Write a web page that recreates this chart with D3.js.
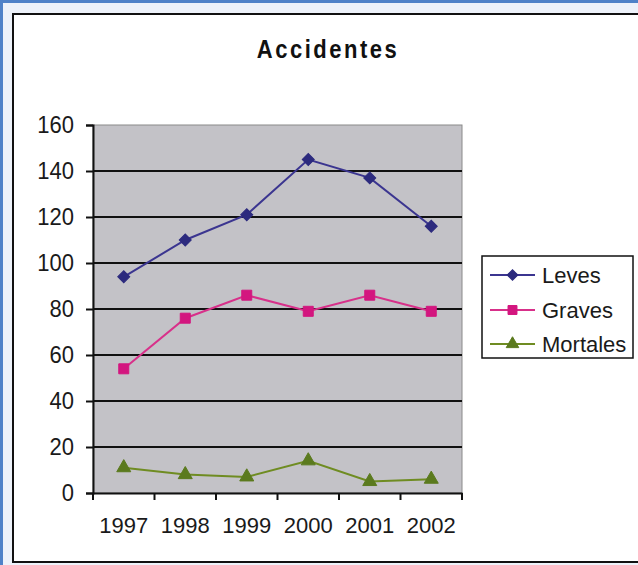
<!DOCTYPE html>
<html>
<head>
<meta charset="utf-8">
<script src="https://cdn.jsdelivr.net/npm/d3@7/dist/d3.min.js"></script>
<style>
  html, body { margin: 0; padding: 0; background: #ffffff; }
  svg { display: block; font-family: "Liberation Sans", Arial, sans-serif; }
</style>
</head>
<body>
<svg id="chart" width="638" height="565"></svg>
<script>
// Accident counts per year
const years = ["1997", "1998", "1999", "2000", "2001", "2002"];
const leves = [94, 110, 121, 145, 137, 116];
const graves = [54, 76, 86, 79, 86, 79];
const mortales = [11, 8, 7, 14, 5, 6];
const yTicks = [0, 20, 40, 60, 80, 100, 120, 140, 160];
const seriesNames = ["Leves", "Graves", "Mortales"];

// Diamond markers are squares turned by 45 degrees
const series = [
  { name: seriesNames[0], values: leves, color: "#2c2a7e", line: "#3b3590", marker: d3.symbolSquare, size: 72, rotate: 45 },
  { name: seriesNames[1], values: graves, color: "#d3167f", line: "#d8308a", marker: d3.symbolSquare, size: 100, rotate: 0 },
  { name: seriesNames[2], values: mortales, color: "#5b7a1e", line: "#6f8c22", marker: d3.symbolTriangle, size: 85, rotate: 0 }
];

const svg = d3.select("#chart");

// Outer frame
svg.append("rect").attr("x", 0).attr("y", 0).attr("width", 638).attr("height", 565).attr("fill", "#edf2fa");
svg.append("rect").attr("x", 1.5).attr("y", 1.5).attr("width", 650).attr("height", 600)
  .attr("fill", "none").attr("stroke", "#4f82c8").attr("stroke-width", 3);
svg.append("rect").attr("x", 13).attr("y", 14).attr("width", 640).attr("height", 548)
  .attr("fill", "#ffffff").attr("stroke", "#111111").attr("stroke-width", 2);

const plot = { left: 93, right: 462, top: 125, bottom: 493 };

const x = d3.scaleBand().domain(years).range([plot.left, plot.right]).padding(0);
const y = d3.scaleLinear().domain([0, 160]).range([plot.bottom, plot.top]);

// Plot area background
svg.append("rect")
  .attr("x", plot.left).attr("y", plot.top)
  .attr("width", plot.right - plot.left).attr("height", plot.bottom - plot.top)
  .attr("fill", "#c3c2c7").attr("stroke", "#8a8a8a").attr("stroke-width", 1);

// Horizontal gridlines
svg.append("g").selectAll("line")
  .data(yTicks.filter(t => t > 0 && t < 160))
  .join("line")
  .attr("x1", plot.left).attr("x2", plot.right)
  .attr("y1", d => y(d)).attr("y2", d => y(d))
  .attr("stroke", "#111111").attr("stroke-width", 2);

// Y axis
const yAxis = svg.append("g")
  .attr("transform", `translate(${plot.left},0)`)
  .call(d3.axisLeft(y).tickValues(yTicks).tickSize(7).tickPadding(12));
yAxis.select(".domain").attr("stroke", "#111111").attr("stroke-width", 2);
yAxis.selectAll(".tick line").attr("stroke", "#111111").attr("stroke-width", 2);
yAxis.selectAll(".tick text")
  .attr("font-size", 22).attr("fill", "#1a1a1a")
  .attr("font-family", "'Liberation Sans', Arial, sans-serif")
  .attr("transform", "scale(1,1.08)");

// X axis
const xAxis = svg.append("g")
  .attr("transform", `translate(0,${plot.bottom})`)
  .call(d3.axisBottom(x).tickSize(0).tickPadding(24));
xAxis.select(".domain").attr("stroke", "#111111").attr("stroke-width", 2);
xAxis.selectAll(".tick text")
  .attr("font-size", 22).attr("fill", "#1a1a1a")
  .attr("font-family", "'Liberation Sans', Arial, sans-serif");

// Category boundary ticks
const bounds = years.map(d => x(d)).concat([x(years[years.length - 1]) + x.bandwidth()]);
svg.append("g").selectAll("line")
  .data(bounds)
  .join("line")
  .attr("x1", d => d).attr("x2", d => d)
  .attr("y1", plot.bottom).attr("y2", plot.bottom + 7)
  .attr("stroke", "#111111").attr("stroke-width", 2);

const cx = i => x(years[i]) + x.bandwidth() / 2;

// Series lines and markers
const line = d3.line().x((d, i) => cx(i)).y(d => y(d));
series.forEach(s => {
  svg.append("path")
    .datum(s.values)
    .attr("d", line)
    .attr("fill", "none")
    .attr("stroke", s.line)
    .attr("stroke-width", 2);
  svg.append("g").selectAll("path")
    .data(s.values)
    .join("path")
    .attr("d", d3.symbol().type(s.marker).size(s.size))
    .attr("transform", (d, i) => `translate(${cx(i)},${y(d)}) rotate(${s.rotate})`)
    .attr("fill", s.color)
    .attr("stroke", s.color)
    .attr("stroke-width", 1);
});

// Title
svg.append("text")
  .attr("transform", "translate(328,58) scale(1,1.15)")
  .attr("text-anchor", "middle")
  .attr("font-size", 22).attr("font-weight", "bold")
  .attr("letter-spacing", 2.5)
  .attr("fill", "#111111")
  .text("Accidentes");

// Legend
const legend = svg.append("g");
legend.append("rect")
  .attr("x", 482).attr("y", 256).attr("width", 151).attr("height", 102)
  .attr("fill", "#ffffff").attr("stroke", "#111111").attr("stroke-width", 1.5);
const legendY = [275, 310, 344];
series.forEach((s, i) => {
  const g = legend.append("g").attr("transform", `translate(0,${legendY[i]})`);
  g.append("line").attr("x1", 490).attr("x2", 535).attr("y1", 0).attr("y2", 0)
    .attr("stroke", s.line).attr("stroke-width", 2);
  g.append("path")
    .attr("d", d3.symbol().type(s.marker).size(s.size * 0.8))
    .attr("transform", `translate(512.5,0) rotate(${s.rotate})`)
    .attr("fill", s.color).attr("stroke", s.color);
  g.append("text")
    .attr("x", 542).attr("y", 0).attr("dy", "0.36em")
    .attr("font-size", 22).attr("fill", "#1a1a1a")
    .text(s.name);
});
</script>
</body>
</html>
